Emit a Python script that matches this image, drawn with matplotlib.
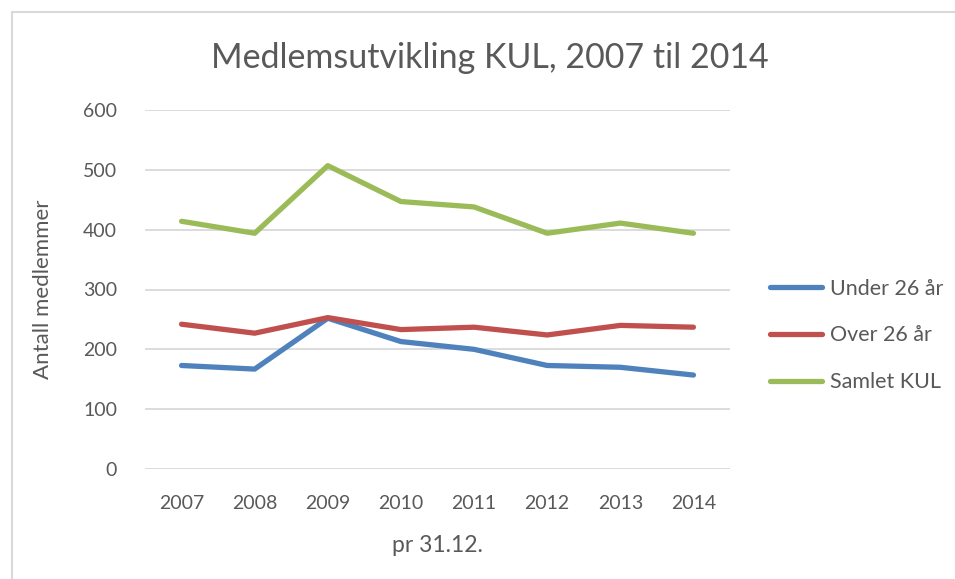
import matplotlib
matplotlib.use("Agg")
import matplotlib.pyplot as plt
from matplotlib.patches import Rectangle

years = ["2007", "2008", "2009", "2010", "2011", "2012", "2013", "2014"]
under26 = [173, 167, 252, 213, 200, 173, 170, 157]
over26 = [242, 227, 253, 233, 237, 224, 240, 237]
samlet = [414, 394, 507, 447, 438, 394, 411, 394]
series_names = ["Under 26 år", "Over 26 år", "Samlet KUL"]
colors = ["#4F81BD", "#C0504D", "#9BBB59"]
yticks = [0, 100, 200, 300, 400, 500, 600]

plt.rcParams['font.family'] = ['Lato', 'DejaVu Sans']
W, H = 955, 579
fig = plt.figure(figsize=(W/100, H/100), dpi=100)
fig.patches.append(Rectangle((12/W, -0.1), 1.2, 1.1 - 12/H, transform=fig.transFigure,
                             fill=False, edgecolor="#D9D9D9", lw=1.5))
ax = fig.add_axes([145/W, 1 - 469/H, (730-145)/W, (469-110)/H])
x = list(range(len(years)))
for vals, name, c in zip([under26, over26, samlet], series_names, colors):
    ax.plot(x, vals, color=c, lw=3.8, label=name, solid_capstyle='round', solid_joinstyle='round')
ax.set_xlim(-0.5, len(years) - 0.5)
ax.set_ylim(0, 600)
ax.set_yticks(yticks)
ax.set_xticks(x)
ax.set_xticklabels(years)
ax.grid(axis='y', color="#D9D9D9", lw=1.3)
ax.set_axisbelow(True)
for s in ax.spines.values():
    s.set_visible(False)
ax.tick_params(length=0, labelsize=14, colors="#595959")
ax.tick_params(axis='y', pad=20)
ax.tick_params(axis='x', pad=19)
ax.set_xlabel("pr 31.12.", fontsize=16.5, color="#595959", labelpad=16)
ax.set_ylabel("Antall medlemmer", fontsize=16, color="#595959", labelpad=22)
fig.text(490/W, 1 - 58/H, "Medlemsutvikling KUL, 2007 til 2014", fontsize=24.5,
         color="#595959", ha='center', va='center')
ax.legend(loc='center left', bbox_to_anchor=(1.035, 0.372), frameon=False,
          fontsize=15.5, labelcolor="#595959", handlelength=2.4, handletextpad=0.4,
          labelspacing=1.25)
fig.savefig("out.png", dpi=100)
